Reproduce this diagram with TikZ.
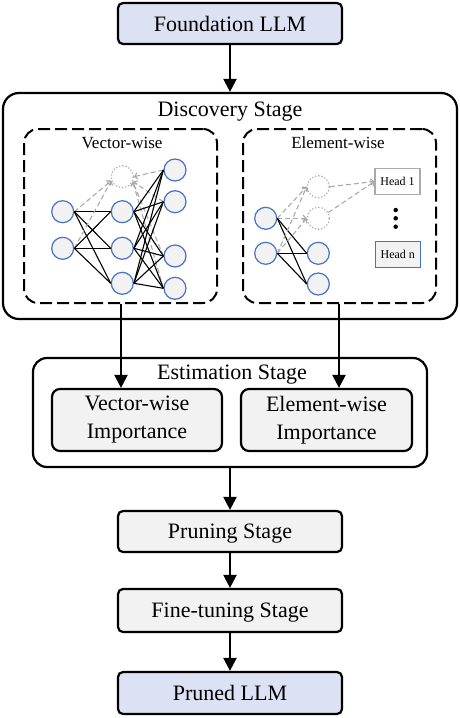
\documentclass[tikz,border=0pt]{standalone}
\usepackage{fontspec}
\setmainfont{Liberation Serif}
\usetikzlibrary{arrows.meta}
\definecolor{lblue}{HTML}{DCE1F3}
\definecolor{lgray}{HTML}{F2F2F2}
\definecolor{nblue}{HTML}{4472C4}
\definecolor{ghostc}{HTML}{AAAAAA}
\begin{document}
\begin{tikzpicture}[x=1pt,y=-1pt,
  bigfont/.style={font=\fontsize{22}{28}\selectfont},
  stagebox/.style={draw, line width=2.2pt, rounded corners=5pt, inner sep=0pt, bigfont, align=center},
  onebox/.style={stagebox, text depth=0pt},
  outerbox/.style={draw, line width=2.2pt, rounded corners=16pt, inner sep=0pt},
  dashbox/.style={draw, line width=2pt, rounded corners=14pt, dash pattern=on 12pt off 5pt, inner sep=0pt},
  arr/.style={line width=2.2pt, -{Triangle[length=13pt,width=13pt]}},
  neuron/.style={circle, draw=nblue, fill=lgray, line width=1.2pt, minimum size=22pt, inner sep=0pt},
  ghostn/.style={circle, draw=ghostc, dotted, fill=white, line width=1.2pt, minimum size=22pt, inner sep=0pt},
  wire/.style={line width=1.1pt, black},
  gwire/.style={line width=1.1pt, ghostc, dash pattern=on 5pt off 3pt, -{Straight Barb[length=3pt,width=6.5pt]}},
  headbox/.style={draw, line width=1.2pt, inner sep=0pt, minimum width=45pt, minimum height=26pt, text depth=0pt, font=\fontsize{12}{14}\selectfont},
  dotn/.style={circle, fill=black, inner sep=0pt, minimum size=4.5pt}
]
\useasboundingbox (0,0) rectangle (460,718);

% main stages
\node[onebox, fill=lblue, minimum width=224pt, minimum height=41pt] (found) at (230,23.5) {Foundation LLM};
\node[outerbox, minimum width=454pt, minimum height=226pt] (disc) at (230,206) {};
\node[bigfont, anchor=base] (disclab) at (230,116.5) {Discovery Stage};

\node[dashbox, minimum width=193pt, minimum height=174pt] (vw) at (120.5,216) {};
\node[dashbox, minimum width=193pt, minimum height=174pt] (ew) at (339.5,216) {};
\node[font=\fontsize{17}{20}\selectfont, anchor=base] (vwlab) at (122,148.3) {Vector-wise};
\node[font=\fontsize{17}{20}\selectfont, anchor=base] (ewlab) at (338,148.3) {Element-wise};

\node[outerbox, rounded corners=14pt, minimum width=394pt, minimum height=109pt] (est) at (230,412.5) {};
\node[bigfont, anchor=base] (estlab) at (232,379.3) {Estimation Stage};
\node[stagebox, rounded corners=8pt, fill=lgray, minimum width=170pt, minimum height=62pt] (vimp) at (137,420) {Vector-wise\\Importance};
\node[stagebox, rounded corners=8pt, fill=lgray, minimum width=171pt, minimum height=62pt] (eimp) at (326.5,420) {Element-wise\\Importance};

\node[onebox, fill=lgray, minimum width=224pt, minimum height=41pt] (prune) at (230,531.5) {Pruning Stage};
\node[onebox, fill=lgray, minimum width=224pt, minimum height=43pt] (fine) at (230,610.5) {Fine-tuning Stage};
\node[onebox, fill=lblue, minimum width=224pt, minimum height=42pt] (pruned) at (230,693) {Pruned LLM};

% arrows
\draw[arr] (found.south) -- (disc.north);
\draw[arr] (vw.south -| 121,0) -- (121,0 |- vimp.north);
\draw[arr] (ew.south -| 339,0) -- (339,0 |- eimp.north);
\draw[arr] (est.south) -- (prune.north);
\draw[arr] (prune.south) -- (fine.north);
\draw[arr] (fine.south) -- (pruned.north);

% vector-wise network
\node[neuron] (a1) at (62.7,211.7) {};
\node[neuron] (a2) at (62.7,248.3) {};
\node[ghostn] (g0) at (122.3,176.7) {};
\node[neuron] (b1) at (122.3,211.7) {};
\node[neuron] (b2) at (122.3,248.3) {};
\node[neuron] (b3) at (122.3,283.3) {};
\node[neuron] (c1) at (175,170) {};
\node[neuron] (c2) at (175,201.7) {};
\node[neuron] (c3) at (175,256) {};
\node[neuron] (c4) at (175,288.3) {};

\foreach \i in {a1,a2}{
  \draw[gwire] (\i.east) -- (g0.200);
  \foreach \j in {b1,b2,b3}{ \draw[wire] (\i.east) -- (\j.west); }
}
\draw[gwire] (c1.west) -- (g0.east);
\foreach \j in {c2,c3,c4}{ \draw[gwire] (\j.west) -- (g0.-25); }
\foreach \i in {b1,b2,b3}{
  \foreach \j in {c1,c2,c3,c4}{ \draw[wire] (\i.east) -- (\j.west); }
}

% element-wise network
\node[neuron] (p1) at (265.7,218.3) {};
\node[neuron] (p2) at (265.7,253.3) {};
\node[ghostn] (q1) at (318.3,186.7) {};
\node[ghostn] (q2) at (318.3,218.3) {};
\node[neuron] (r1) at (318.3,253.3) {};
\node[neuron] (r2) at (318.3,284) {};
\node[headbox, draw=ghostc, fill=white] (h1) at (397.5,181.5) {Head 1};
\node[headbox, draw=nblue, fill=lgray] (hn) at (397.8,254.8) {Head n};
\node[dotn] (d1) at (395.7,210) {};
\node[dotn] (d2) at (395.7,218.3) {};
\node[dotn] (d3) at (395.7,226.7) {};

\foreach \i in {p1,p2}{
  \foreach \j in {q1,q2}{ \draw[gwire] (\i.east) -- (\j.west); }
  \foreach \j in {r1,r2}{ \draw[wire] (\i.east) -- (\j.west); }
}
\draw[gwire] (q1.east) -- (h1.west);
\draw[gwire] (q2.30) -- (h1.west);
\end{tikzpicture}
\end{document}
